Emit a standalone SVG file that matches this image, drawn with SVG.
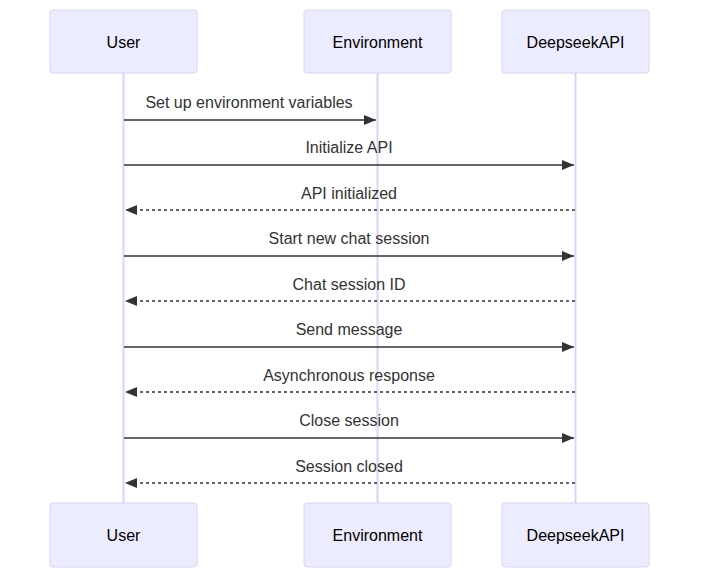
<svg xmlns="http://www.w3.org/2000/svg" width="707" height="585" viewBox="0 0 707 585">
<style>
.actor{fill:#ECECFF;stroke:#DCD3F5;stroke-width:1}
.life{stroke:#DCD3F5;stroke-width:2}
.atext{font-family:"Liberation Sans",Arial,sans-serif;font-size:16px;fill:#000;text-anchor:middle;dominant-baseline:central}
.mtext{font-family:"Liberation Sans",Arial,sans-serif;font-size:16px;fill:#333;text-anchor:middle}
.msg{stroke:#333;stroke-width:1.5;fill:none}
.dash{stroke-dasharray:3,3}
</style>
<defs>
<marker id="arrow" viewBox="0 0 12 10" refX="12" refY="5" markerUnits="userSpaceOnUse" markerWidth="12" markerHeight="10" orient="auto">
<path d="M0,0 L12,5 L0,10 z" fill="#333"/>
</marker>
</defs>
<rect width="707" height="585" fill="#fff"/>
<g id="lifelines">
<line class="life" x1="123.5" y1="73" x2="123.5" y2="503"/>
<line class="life" x1="377.5" y1="73" x2="377.5" y2="503"/>
<line class="life" x1="575.5" y1="73" x2="575.5" y2="503"/>
</g>
<g id="actor-User-top"><rect class="actor" x="50" y="10" width="147" height="63" rx="3"/><text class="atext" x="123.5" y="42">User</text></g>
<g id="actor-Environment-top"><rect class="actor" x="304" y="10" width="147" height="63" rx="3"/><text class="atext" x="377.5" y="42">Environment</text></g>
<g id="actor-DeepseekAPI-top"><rect class="actor" x="502" y="10" width="147" height="63" rx="3"/><text class="atext" x="575.5" y="42">DeepseekAPI</text></g>
<g id="actor-User-bottom"><rect class="actor" x="50" y="503" width="147" height="64" rx="3"/><text class="atext" x="123.5" y="535">User</text></g>
<g id="actor-Environment-bottom"><rect class="actor" x="304" y="503" width="147" height="64" rx="3"/><text class="atext" x="377.5" y="535">Environment</text></g>
<g id="actor-DeepseekAPI-bottom"><rect class="actor" x="502" y="503" width="147" height="64" rx="3"/><text class="atext" x="575.5" y="535">DeepseekAPI</text></g>
<g id="connectors">
<line class="msg" x1="124" y1="120" x2="376" y2="120" marker-end="url(#arrow)"/>
<text class="mtext" x="249" y="108">Set up environment variables</text>
<line class="msg" x1="124" y1="165" x2="574" y2="165" marker-end="url(#arrow)"/>
<text class="mtext" x="349" y="153">Initialize API</text>
<line class="msg dash" x1="575" y1="210" x2="125" y2="210" marker-end="url(#arrow)"/>
<text class="mtext" x="349" y="199">API initialized</text>
<line class="msg" x1="124" y1="256" x2="574" y2="256" marker-end="url(#arrow)"/>
<text class="mtext" x="349" y="244">Start new chat session</text>
<line class="msg dash" x1="575" y1="301" x2="125" y2="301" marker-end="url(#arrow)"/>
<text class="mtext" x="349" y="290">Chat session ID</text>
<line class="msg" x1="124" y1="347" x2="574" y2="347" marker-end="url(#arrow)"/>
<text class="mtext" x="349" y="335">Send message</text>
<line class="msg dash" x1="575" y1="392" x2="125" y2="392" marker-end="url(#arrow)"/>
<text class="mtext" x="349" y="381">Asynchronous response</text>
<line class="msg" x1="124" y1="438" x2="574" y2="438" marker-end="url(#arrow)"/>
<text class="mtext" x="349" y="426">Close session</text>
<line class="msg dash" x1="575" y1="483" x2="125" y2="483" marker-end="url(#arrow)"/>
<text class="mtext" x="349" y="472">Session closed</text>
</g>
</svg>
